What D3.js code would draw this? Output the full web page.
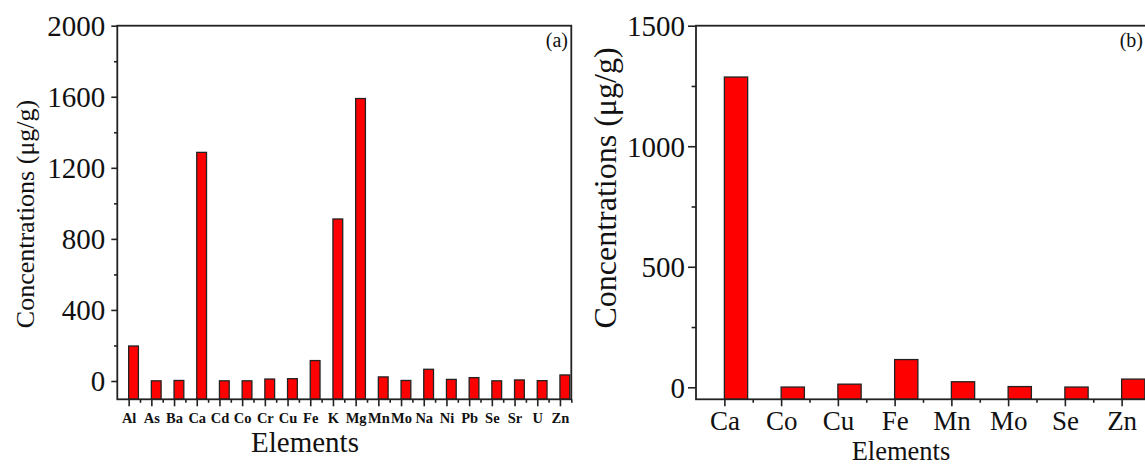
<!DOCTYPE html>
<html><head><meta charset="utf-8">
<script src="https://cdn.jsdelivr.net/npm/d3@7"></script>
<style>
body{margin:0;background:#fff}
text{font-family:"Liberation Serif","Times New Roman",serif;fill:#111}
</style>
</head><body>
<svg id="c" width="1145" height="465"></svg>
<script>
// ---- data ----
const elementsA = ["Al","As","Ba","Ca","Cd","Co","Cr","Cu","Fe","K","Mg","Mn","Mo","Na","Ni","Pb","Se","Sr","U","Zn"];
const valuesA   = [197, 1, 3, 1287, 1, 1, 11, 13, 115, 912, 1590, 23, 3, 66, 9, 19, 1, 6, 2, 34];
const elementsB = ["Ca","Co","Cu","Fe","Mn","Mo","Se","Zn"];
const valuesB   = [1287, 1, 13, 115, 23, 3, 1, 34];
const yTicksA = [0, 400, 800, 1200, 1600, 2000];
const yMinorA = [200, 600, 1000, 1400, 1800];
const yTicksB = [0, 500, 1000, 1500];
const yMinorB = [250, 750, 1250];
const panelLabels = ["(a)", "(b)"];
const xTitle = "Elements";
const yTitle = "Concentrations (\u03bcg/g)";

const svg = d3.select("#c");

function panel(cfg){
  const g = svg.append("g");
  const n = cfg.cats.length;
  const x = d3.scaleLinear().domain([-0.5, n - 0.5]).range([cfg.x0, cfg.x1]);
  const y = d3.scaleLinear().domain(cfg.yDomain).range([cfg.yB, cfg.yT]);
  const step = x(1) - x(0);
  const bw = step * cfg.barFrac;

  g.selectAll("rect.bar").data(cfg.vals).join("rect")
    .attr("class","bar")
    .attr("x", (d,i) => x(i))
    .attr("y", d => y(d))
    .attr("width", bw)
    .attr("height", d => y(cfg.yDomain[0]) - y(d))
    .attr("fill", "#ff0000")
    .attr("stroke", "#222")
    .attr("stroke-width", 1.3);

  g.append("rect")
    .attr("x", cfg.x0).attr("y", cfg.yT)
    .attr("width", cfg.x1 - cfg.x0).attr("height", cfg.yB - cfg.yT)
    .attr("fill","none").attr("stroke","#222").attr("stroke-width",1.8);

  const ya = g.append("g").attr("transform", `translate(${cfg.x0},0)`)
    .call(d3.axisLeft(y).tickValues(cfg.yTicks).tickSize(cfg.yTickLen).tickFormat(d3.format("d")));
  ya.select(".domain").remove();
  ya.selectAll("line").attr("stroke","#222").attr("stroke-width",1.6);
  ya.selectAll("text").attr("x", -cfg.yLabGap).attr("dy","0.34em")
    .style("font-size", cfg.yTickFont + "px").attr("font-family", null);

  const ym = g.append("g").attr("transform", `translate(${cfg.x0},0)`)
    .call(d3.axisLeft(y).tickValues(cfg.yMinor).tickSize(cfg.yTickLen*0.55).tickFormat(""));
  ym.select(".domain").remove();
  ym.selectAll("line").attr("stroke","#222").attr("stroke-width",1.6);

  const xa = g.append("g").attr("transform", `translate(0,${cfg.yB})`)
    .call(d3.axisBottom(x).tickValues(d3.range(n)).tickSize(cfg.xTickLen).tickFormat(i => cfg.cats[i]));
  xa.select(".domain").remove();
  xa.selectAll("line").attr("stroke","#222").attr("stroke-width",1.6);
  xa.selectAll("text").attr("y", cfg.xLabBase).attr("dy", 0)
    .style("font-size", cfg.xTickFont + "px").style("font-weight", cfg.xTickWeight)
    .attr("font-family", null);

  const xm = g.append("g").attr("transform", `translate(0,${cfg.yB})`)
    .call(d3.axisBottom(x).tickValues(d3.range(n).map(i => i + 0.5)).tickSize(cfg.xTickLen*0.5).tickFormat(""));
  xm.select(".domain").remove();
  xm.selectAll("line").attr("stroke","#222").attr("stroke-width",1.6);

  g.append("text").attr("x", cfg.xTitleX).attr("y", cfg.xTitleY)
    .attr("text-anchor","middle").style("font-size", cfg.xTitleFont + "px").text(xTitle);
  g.append("text").attr("transform", `translate(${cfg.yTitleX},${cfg.yTitleY}) rotate(-90)`)
    .attr("text-anchor","middle").attr("dy","0.25em")
    .style("font-size", cfg.yTitleFont + "px").text(yTitle);
  g.append("text").attr("x", cfg.labX).attr("y", cfg.yT + 21)
    .attr("text-anchor","end").style("font-size", cfg.labFont + "px").text(cfg.label);
}

panel({
  cats: elementsA, vals: valuesA, yTicks: yTicksA, yMinor: yMinorA,
  x0: 117.3, x1: 571.3, yT: 25.7, yB: 399.3, yDomain: [-103, 2000],
  barFrac: 0.43, yTickLen: 6, xTickLen: 7, yLabGap: 12, yTickFont: 29,
  xTickFont: 14.5, xTickWeight: "bold", xLabBase: 24,
  xTitleX: 305, xTitleY: 452, xTitleFont: 29,
  yTitleX: 27, yTitleY: 214, yTitleFont: 26,
  label: panelLabels[0], labX: 568, labFont: 20
});
panel({
  cats: elementsB, vals: valuesB, yTicks: yTicksB, yMinor: yMinorB,
  x0: 696, x1: 1150, yT: 25.7, yB: 399.3, yDomain: [-49.8, 1500],
  barFrac: 0.41, yTickLen: 8, xTickLen: 7, yLabGap: 11, yTickFont: 29,
  xTickFont: 27, xTickWeight: "normal", xLabBase: 31,
  xTitleX: 901, xTitleY: 459.5, xTitleFont: 26.5,
  yTitleX: 608, yTitleY: 188, yTitleFont: 32,
  label: panelLabels[1], labX: 1143, labFont: 20
});
</script>
</body></html>
